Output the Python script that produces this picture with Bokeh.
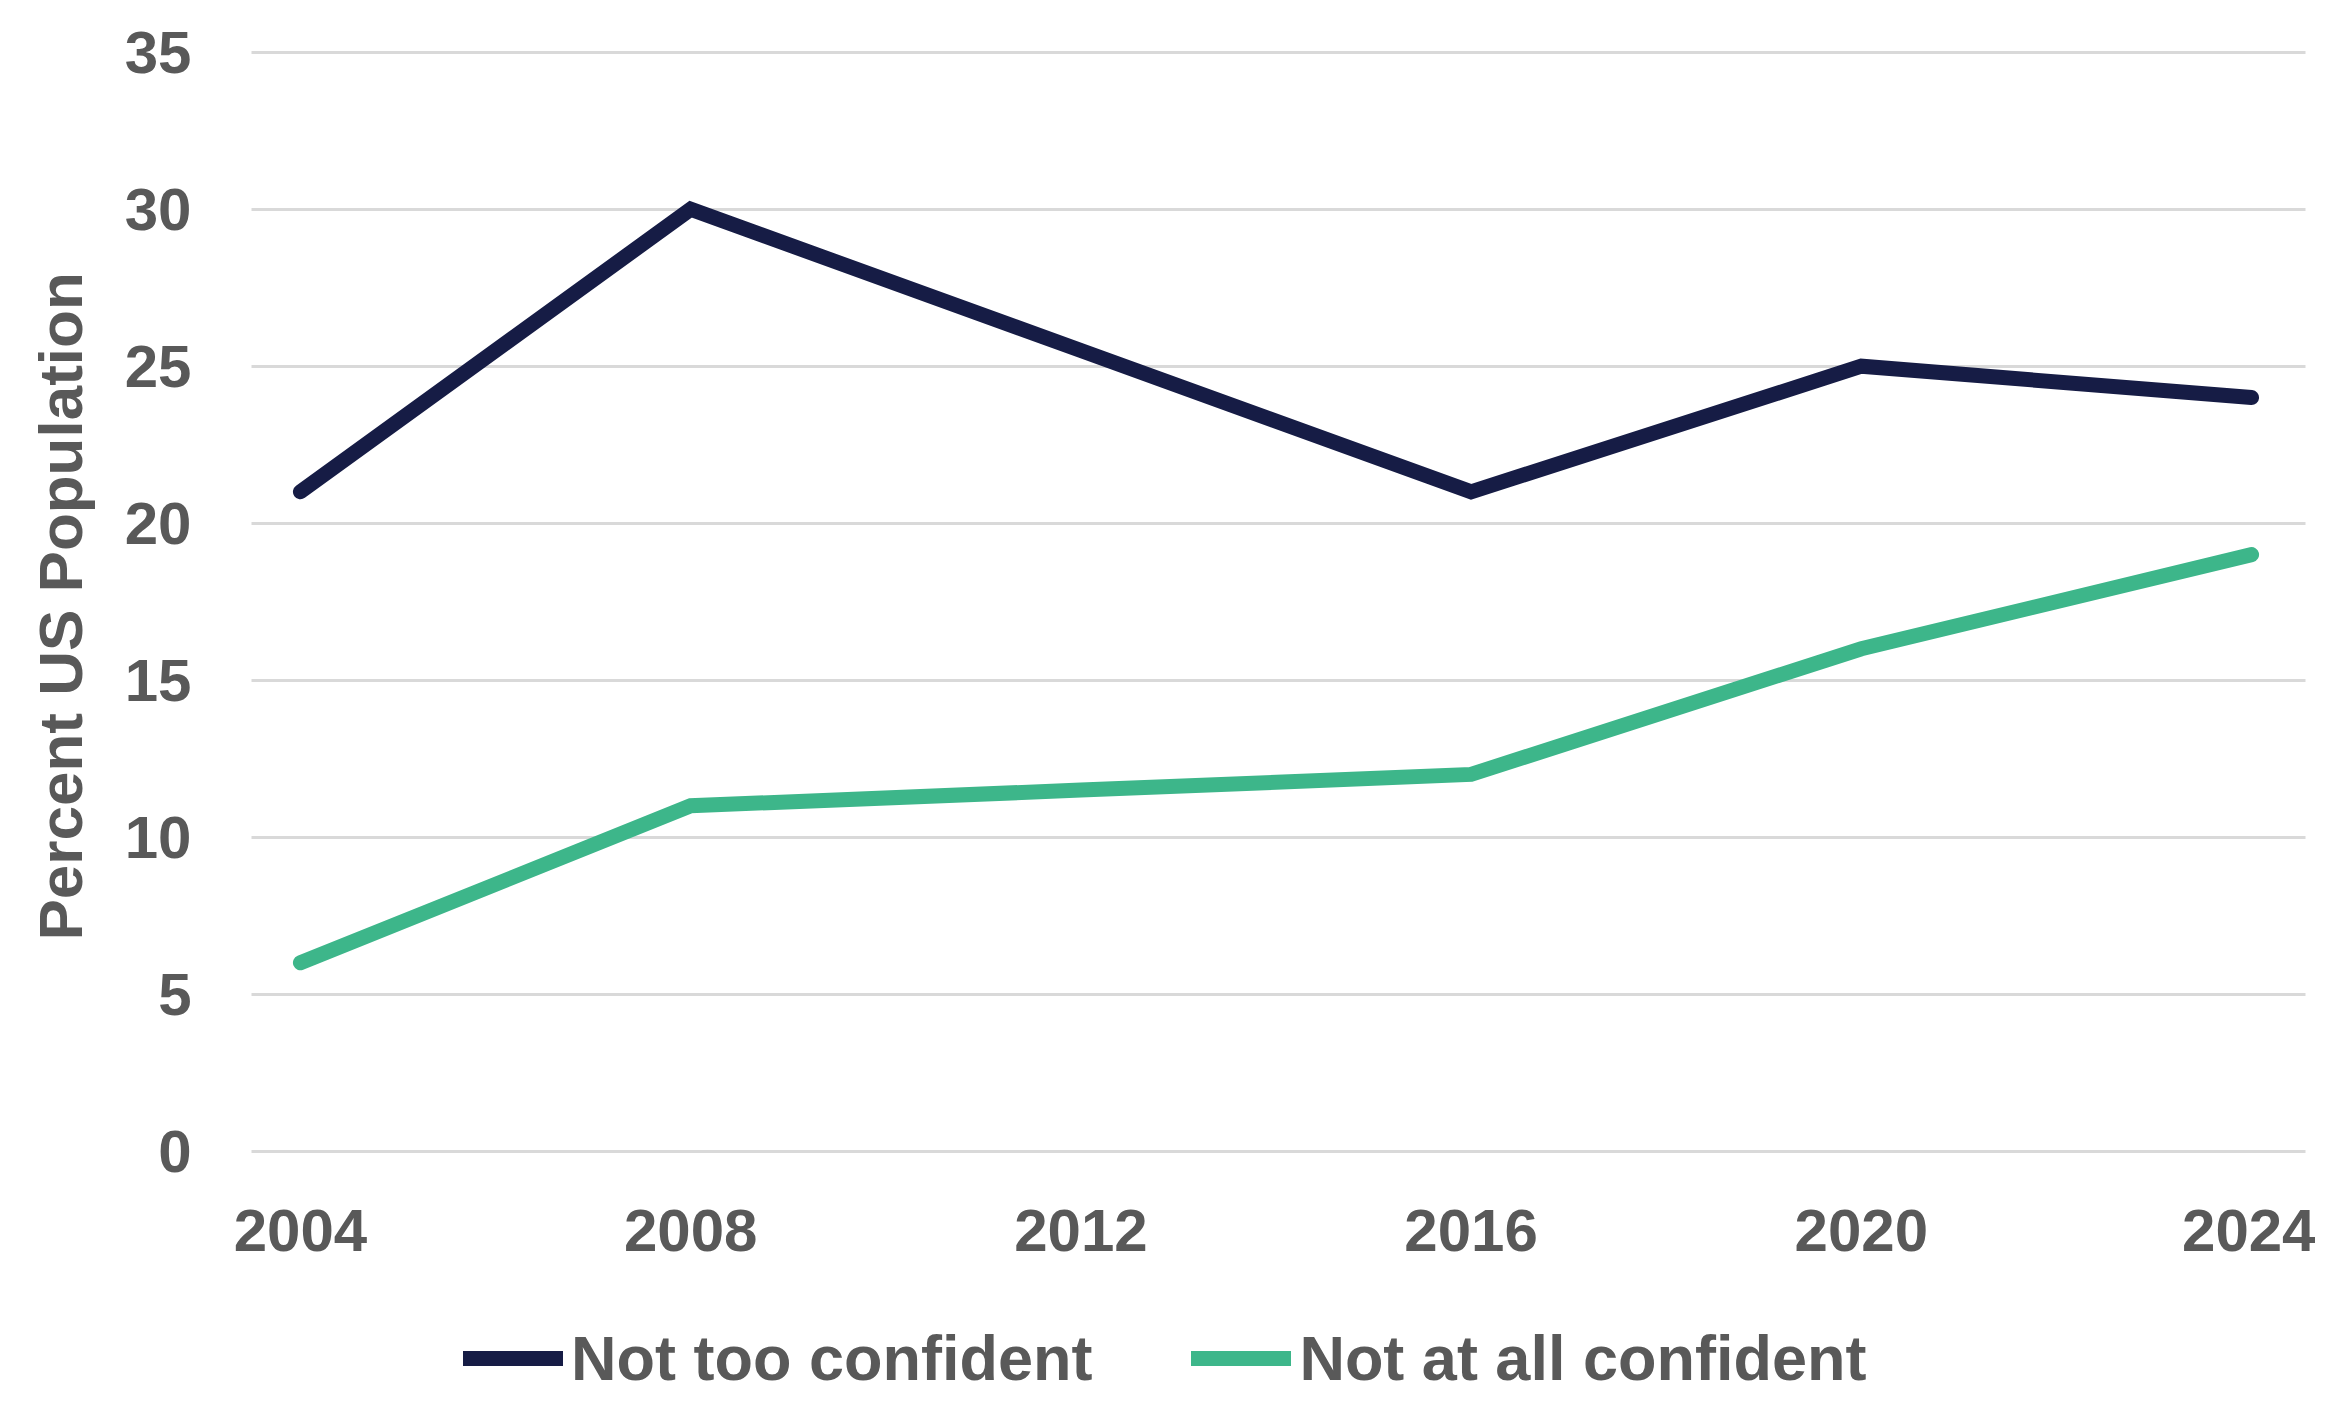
from bokeh.plotting import figure
from bokeh.models import Range1d, FixedTicker, Legend, LegendItem, Title
from bokeh.embed import file_html
from bokeh.resources import INLINE

years = [2004, 2008, 2012, 2016, 2020, 2024]
not_too = [21, 30, 25.5, 21, 25, 24]
not_at_all = [6, 11, 11.5, 12, 16, 19]
y_ticks = [0, 5, 10, 15, 20, 25, 30, 35]
series_names = ["Not too confident", "Not at all confident"]
y_title = "Percent US Population"
colors = ["#161C45", "#3DB68A"]

FONT = "Liberation Sans"
TXT = "#595959"

W, H = 2315, 1404
# vertical layout (screen px)
TOP = 45
ZERO_PX = 1150.7
TOP35_PX = 51.7
ppu = (ZERO_PX - TOP35_PX) / 35.0
y_max = 35 + (TOP35_PX - TOP) / ppu
y_min = -(H - ZERO_PX) / ppu
# horizontal layout (screen px)
LEFT = 230
X0_PX, X1_PX = 298.0, 2251.0
ppy = (X1_PX - X0_PX) / (years[-1] - years[0])
x_min = years[0] - (X0_PX - LEFT) / ppy
x_max = years[-1] + (W - X1_PX) / ppy

p = figure(width=W, height=H, output_backend="svg", toolbar_location=None,
           x_range=Range1d(x_min, x_max), y_range=Range1d(y_min, y_max),
           min_border_left=LEFT, min_border_right=0, min_border_top=TOP, min_border_bottom=0)
p.outline_line_color = None
p.background_fill_color = "white"
p.border_fill_color = "white"

r1 = p.line(years, not_too, line_color=colors[0], line_width=15, line_cap="round", line_join="miter")
r2 = p.line(years, not_at_all, line_color=colors[1], line_width=15, line_cap="round", line_join="miter")

p.xgrid.grid_line_color = None
p.ygrid.grid_line_color = "#D9D9D9"
p.ygrid.grid_line_width = 3
p.ygrid.ticker = FixedTicker(ticks=y_ticks)
p.ygrid.cross_bounds = (years[0] - 0.5, years[-1] + 0.55)

for ax in (p.xaxis[0], p.yaxis[0]):
    ax.axis_line_color = None
    ax.major_tick_line_color = None
    ax.minor_tick_line_color = None
    ax.major_tick_out = 0
    ax.major_tick_in = 0
    ax.major_label_text_font = FONT
    ax.major_label_text_font_style = "bold"
    ax.major_label_text_color = TXT
    ax.major_label_text_font_size = "60px"

p.xaxis.ticker = FixedTicker(ticks=years)
p.xaxis.fixed_location = 0
p.xaxis.major_label_standoff = 59
p.yaxis.ticker = FixedTicker(ticks=y_ticks)
p.yaxis.major_label_standoff = 41

# y-axis title, placed along the 0..35 part of the frame
title_bottom_px = 940
p.add_layout(Title(text=y_title, align="left", vertical_align="top",
                   offset=H - title_bottom_px, standoff=50,
                   text_font=FONT, text_font_style="bold", text_color=TXT,
                   text_font_size="62px"), "left")

legend = Legend(items=[LegendItem(label=series_names[0], renderers=[r1]),
                       LegendItem(label=series_names[1], renderers=[r2])],
                location=(231, 10), orientation="horizontal",
                glyph_width=100, glyph_height=40, label_standoff=8, spacing=99,
                padding=0, margin=0, border_line_color=None, background_fill_alpha=0,
                label_text_font=FONT, label_text_font_style="bold",
                label_text_color=TXT, label_text_font_size="63px")
p.add_layout(legend, "center")

open("out.html", "w").write(file_html(p, INLINE))
